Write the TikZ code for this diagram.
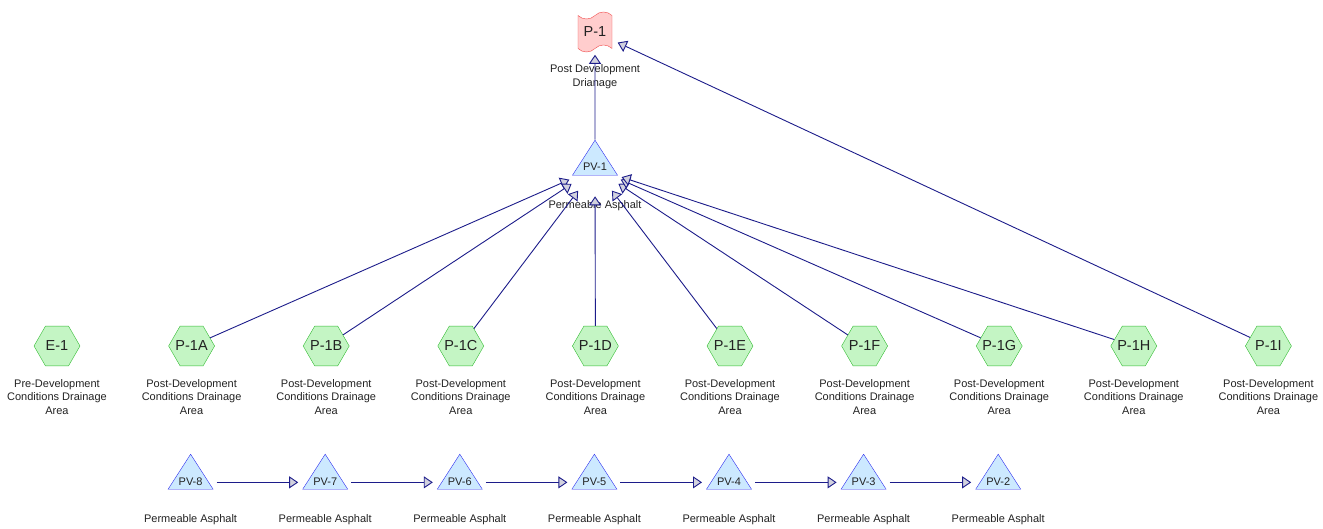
\documentclass[tikz,border=0pt]{standalone}
\usepackage{fontspec}
\setmainfont{Liberation Sans}
\usetikzlibrary{arrows.meta,positioning,calc,shapes.geometric,shapes.symbols}
\definecolor{ln}{HTML}{1C1C8A}
\definecolor{hd}{HTML}{D2D2DE}
\definecolor{hx}{HTML}{C4F5C4}
\definecolor{hxb}{HTML}{33BB33}
\definecolor{tr}{HTML}{CCE9FF}
\definecolor{trb}{HTML}{2D2DEE}
\definecolor{ot}{HTML}{FFCDCD}
\definecolor{otb}{HTML}{F04848}
\definecolor{tx}{HTML}{222222}
\tikzset{
  hexa/.style={regular polygon, regular polygon sides=6, minimum size=46pt, inner sep=0pt,
    draw=hxb, fill=hx, text=tx, font=\fontsize{14.5}{16}\selectfont},
  tri/.style={isosceles triangle, shape border rotate=90, isosceles triangle stretches,
    minimum width=45pt, minimum height=35pt, inner sep=0pt, text height=23pt, text depth=0pt,
    anchor=text, draw=trb, fill=tr, text=tx, font=\fontsize{11}{13}\selectfont},
  outfall/.style={tape, minimum width=34pt, minimum height=40pt, tape bend height=7pt,
    inner sep=0pt, draw=otb, fill=ot, text=tx, font=\fontsize{14.5}{16}\selectfont},
  lbl/.style={align=center, inner sep=0pt, text=tx, font=\fontsize{11}{13.5}\selectfont},
  flow/.style={draw=ln, line width=0.9pt, -{Triangle[length=9pt,width=12pt,fill=hd]}},
}
\begin{document}
\begin{tikzpicture}[x=1pt,y=-1pt]
  \useasboundingbox (0,0) rectangle (1323,529);
  % outfall and permeable pavement at the top
  \node[outfall] (p1) at (595,32) {P-1};
  \node[lbl, below=16pt of p1] (p1-lbl) {Post Development\\Drianage};
  \node[tri] (pv1) at (595,171) {\makebox[0pt]{PV-1}};
  \node[lbl, below=29pt of pv1.text] (pv1-lbl) {Permeable Asphalt};
  % drainage areas
  \foreach \n/\t/\w [count=\i from 0] in {e1/E-1/Pre, p1a/P-1A/Post, p1b/P-1B/Post,
      p1c/P-1C/Post, p1d/P-1D/Post, p1e/P-1E/Post, p1f/P-1F/Post, p1g/P-1G/Post,
      p1h/P-1H/Post, p1i/P-1I/Post} {
    \node[hexa] (\n) at ({57+134.6*\i},346) {\makebox[0pt]{\t}};
    \node[lbl, below=13pt of \n] (\n-lbl) {\w-Development\\Conditions Drainage\\Area};
  }
  % pavement chain
  \foreach \n/\t [count=\i from 0] in {pv8/PV-8, pv7/PV-7, pv6/PV-6, pv5/PV-5,
      pv4/PV-4, pv3/PV-3, pv2/PV-2} {
    \node[tri] (\n) at ({190.6+134.6*\i},485) {\makebox[0pt]{\t}};
    \node[lbl, below=29pt of \n.text] (\n-lbl) {Permeable Asphalt};
  }
  % connectors
  \foreach \n in {p1a,p1b,p1c,p1d,p1e,p1f,p1g,p1h}
    \draw[flow, shorten >=28pt] (\n) -- (pv1.mid);
  \draw[flow, shorten >=6pt] (pv1.apex) -- (p1);
  \draw[flow, shorten >=6pt] (p1i) -- (p1);
  \foreach \a/\b in {pv8/pv7, pv7/pv6, pv6/pv5, pv5/pv4, pv4/pv3, pv3/pv2}
    \draw[flow, shorten <=26pt, shorten >=27pt] (\a.mid) -- (\b.mid);
\end{tikzpicture}
\end{document}
